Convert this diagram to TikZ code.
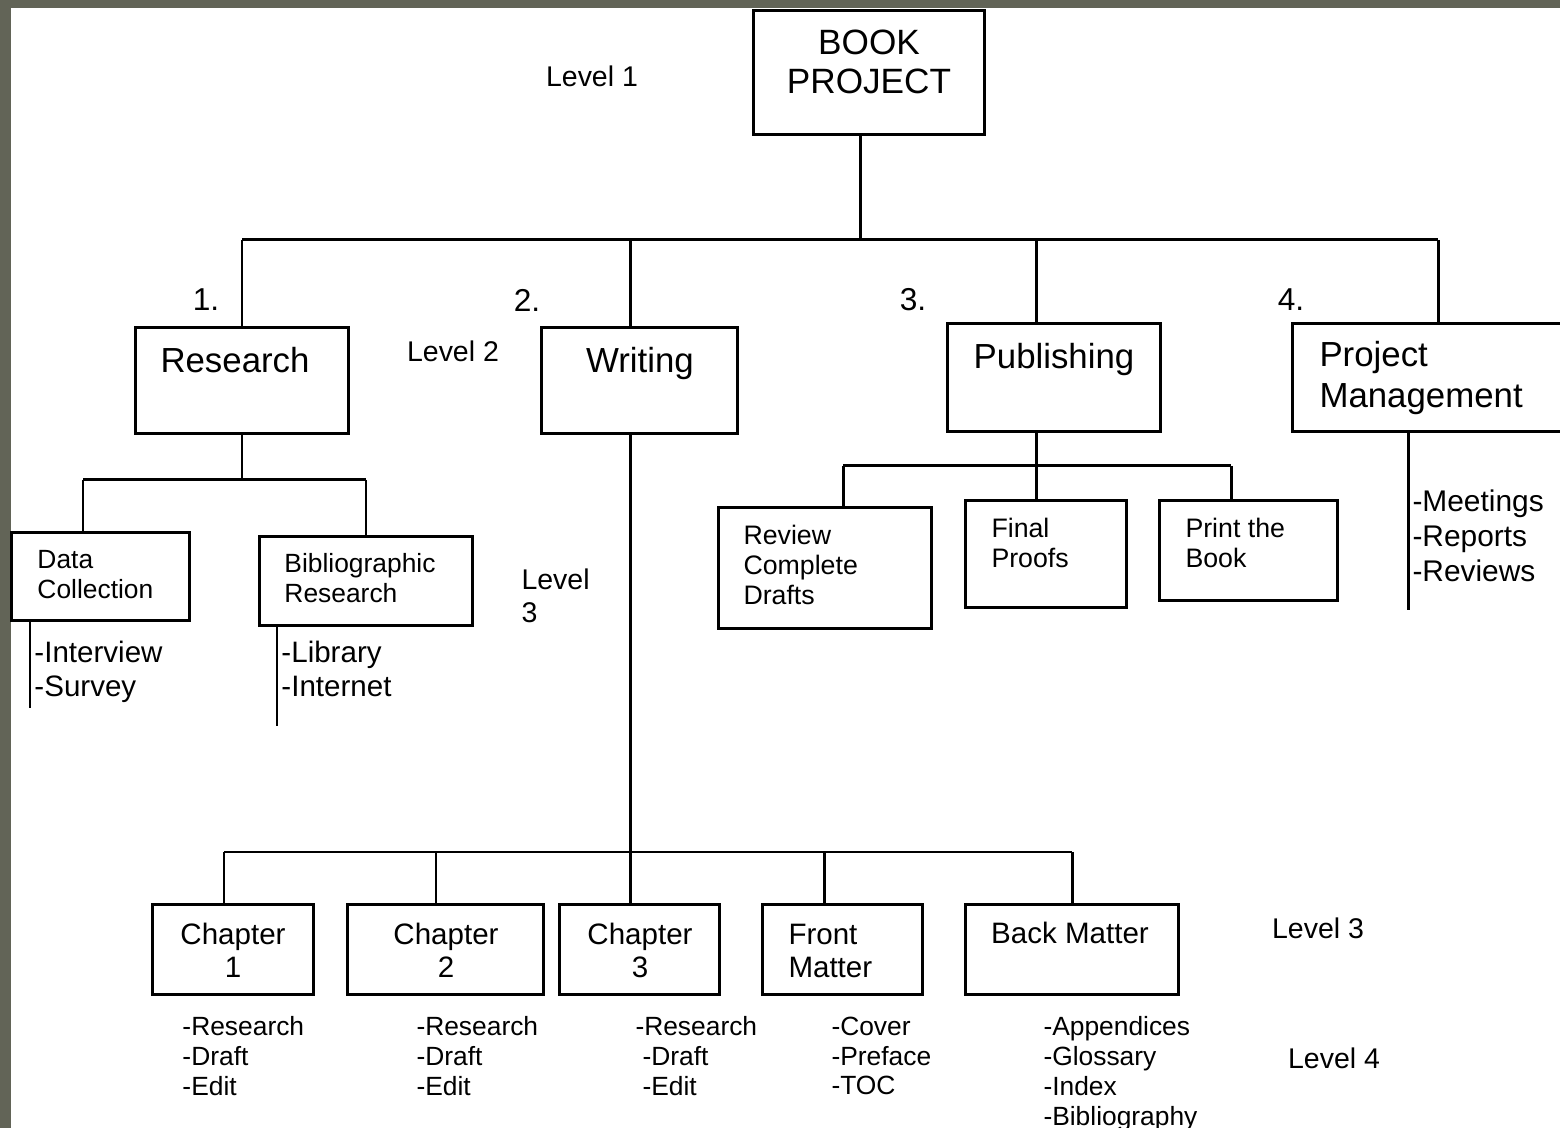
\documentclass[tikz,border=0pt]{standalone}
\usepackage{fontspec}
\setmainfont{Liberation Sans}
\usepackage{tikz}
\definecolor{frame}{RGB}{98,100,87}
\newcommand{\fs}[2]{\fontsize{#1}{#2}\selectfont}

\begin{document}
\begin{tikzpicture}[x=0.01cm, y=-0.01cm, line width=0.85pt,
	box/.style={draw, inner sep=0pt},
	txt/.style={inner sep=0pt, align=left, anchor=west},
	ctxt/.style={inner sep=0pt, align=center}]
	%\draw[help lines] (0,0) grid (1560,1128);
	\useasboundingbox (0,0) rectangle (1560,1128);
	\clip (0,0) rectangle (1560,1128);
	\fill[frame] (0,0) rectangle (1560,1128);
	\fill[white] (11,8) rectangle (1560,1128);

	% level 1
	\node[box, minimum width=2.30cm, minimum height=1.23cm] (book) at (869,72.5) {};
	\node[ctxt, font=\fs{10}{11.3}] (book-t) at (869,62) {BOOK\\PROJECT};
	\node[ctxt, font=\fs{8.1}{9}] (lv1) at (592,76) {Level 1};

	% level 2
	\node[box, minimum width=2.12cm, minimum height=1.05cm] (research) at (242,380.5) {};
	\node[box, minimum width=1.95cm, minimum height=1.05cm] (writing) at (639.5,380.5) {};
	\node[box, minimum width=2.12cm, minimum height=1.07cm] (publishing) at (1054,377.5) {};
	\node[box, minimum width=2.82cm, minimum height=1.07cm] (pm) at (1434,377.5) {};
	\node[ctxt, font=\fs{9.9}{11.6}] (research-t) at (235,360) {Research};
	\node[ctxt, font=\fs{9.9}{11.6}] (writing-t) at (640,364) {Writing};
	\node[ctxt, font=\fs{9.9}{11.6}] (publishing-t) at (1054,360) {Publishing};
	\node[txt, font=\fs{9.9}{11.6}] (pm-t) at (1318,378) {Project\\Management};
	\node[ctxt, font=\fs{9}{10}] (n1) at (206,300) {1.};
	\node[ctxt, font=\fs{9}{10}] (n2) at (527,300) {2.};
	\node[ctxt, font=\fs{9}{10}] (n3) at (913,300) {3.};
	\node[ctxt, font=\fs{9}{10}] (n4) at (1291,300) {4.};
	\node[ctxt, font=\fs{8.1}{9}] (lv2) at (453,351) {Level 2};

	% level 3, top row
	\node[box, minimum width=1.77cm, minimum height=0.87cm] (datacoll) at (100.5,576.5) {};
	\node[box, minimum width=2.12cm, minimum height=0.88cm] (biblio) at (366,581) {};
	\node[box, minimum width=2.12cm, minimum height=1.20cm] (review) at (825,568) {};
	\node[box, minimum width=1.60cm, minimum height=1.06cm] (proofs) at (1046,554) {};
	\node[box, minimum width=1.77cm, minimum height=0.99cm] (print) at (1248.5,550.5) {};
	\node[txt, font=\fs{7.5}{8.5}] (datacoll-t) at (36,575) {Data\\Collection};
	\node[txt, font=\fs{7.5}{8.5}] (biblio-t) at (283,578) {Bibliographic\\Research};
	\node[txt, font=\fs{7.6}{8.5}] (review-t) at (742,565) {Review\\Complete\\Drafts};
	\node[txt, font=\fs{7.6}{8.5}] (proofs-t) at (990,543) {Final\\Proofs};
	\node[txt, font=\fs{7.6}{8.5}] (print-t) at (1184,543) {Print the\\Book};
	\node[txt, font=\fs{8.1}{9.3}] (lv3a) at (520,596) {Level\\3};
	\node[txt, font=\fs{8.4}{9.7}] (datacoll-l) at (33,672) {-Interview\\-Survey};
	\node[txt, font=\fs{8.4}{9.7}] (biblio-l) at (280,669) {-Library\\-Internet};
	\node[txt, font=\fs{8.5}{10}] (pm-l) at (1411,536) {-Meetings\\-Reports\\-Reviews};

	% level 3, writing row
	\node[box, minimum width=1.60cm, minimum height=0.89cm] (ch1) at (233,949.5) {};
	\node[box, minimum width=1.95cm, minimum height=0.89cm] (ch2) at (445.5,949.5) {};
	\node[box, minimum width=1.59cm, minimum height=0.89cm] (ch3) at (639.5,949.5) {};
	\node[box, minimum width=1.59cm, minimum height=0.89cm] (front) at (842.5,949.5) {};
	\node[box, minimum width=2.12cm, minimum height=0.89cm] (back) at (1072,949.5) {};
	\node[ctxt, font=\fs{8.4}{9.4}] (ch1-t) at (233,950) {Chapter\\1};
	\node[ctxt, font=\fs{8.4}{9.4}] (ch2-t) at (446,950) {Chapter\\2};
	\node[ctxt, font=\fs{8.4}{9.4}] (ch3-t) at (640,950) {Chapter\\3};
	\node[txt, font=\fs{8.4}{9.4}] (front-t) at (787,951) {Front\\Matter};
	\node[ctxt, font=\fs{8.4}{9.4}] (back-t) at (1070,933) {Back Matter};
	\node[ctxt, font=\fs{8.1}{9}] (lv3b) at (1318,928) {Level 3};
	\node[ctxt, font=\fs{8.1}{9}] (lv4) at (1334,1058) {Level 4};

	% level 4
	\node[txt, font=\fs{7.5}{8.5}] (ch1-l) at (181,1056) {-Research\\-Draft\\-Edit};
	\node[txt, font=\fs{7.5}{8.5}] (ch2-l) at (415,1056) {-Research\\-Draft\\-Edit};
	\node[txt, font=\fs{7.5}{8.5}] (ch3-l) at (634,1056) {-Research\\\hspace{2pt}-Draft\\\hspace{2pt}-Edit};
	\node[txt, font=\fs{7.5}{8.5}] (front-l) at (830,1056) {-Cover\\-Preface\\-TOC};
	\node[txt, font=\fs{7.5}{8.5}] (back-l) at (1042,1074) {-Appendices\\-Glossary\\-Index\\-Bibliography};

	% connectors
	\coordinate (t0) at (860,240);
	\coordinate (t1) at (242,240);
	\coordinate (t2) at (630,240);
	\coordinate (t3) at (1036,240);
	\coordinate (t4) at (1438,240);
	\draw (t0 |- book.south) -- (t0);
	\draw (t1) -- (t4);
	\foreach \c/\n in {t1/research, t2/writing, t3/publishing, t4/pm}
		\draw (\c) -- (\c |- \n.north);

	\coordinate (r1) at (83,480);
	\coordinate (r2) at (366,480);
	\draw (research.south) -- (research.south |- r1);
	\draw (r1) -- (r2);
	\draw (r1) -- (r1 |- datacoll.north);
	\draw (r2) -- (r2 |- biblio.north);

	\coordinate (p1) at (843,466);
	\coordinate (p2) at (1036,466);
	\coordinate (p3) at (1231,466);
	\draw (p2 |- publishing.south) -- (p2);
	\draw (p1) -- (p3);
	\foreach \c/\n in {p1/review, p2/proofs, p3/print}
		\draw (\c) -- (\c |- \n.north);

	\coordinate (w1) at (224,852);
	\coordinate (w2) at (436,852);
	\coordinate (w3) at (630,852);
	\coordinate (w4) at (824,852);
	\coordinate (w5) at (1072,852);
	\draw (w3 |- writing.south) -- (w3);
	\draw (w1) -- (w5);
	\foreach \c/\n in {w1/ch1, w2/ch2, w3/ch3, w4/front, w5/back}
		\draw (\c) -- (\c |- \n.north);

	% side lines
	\coordinate (dc-end) at (30,708);
	\coordinate (bib-end) at (277,726);
	\coordinate (pm-end) at (1408,610);
	\draw (dc-end |- datacoll.south) -- (dc-end);
	\draw (bib-end |- biblio.south) -- (bib-end);
	\draw (pm-end |- pm.south) -- (pm-end);
\end{tikzpicture}
\end{document}
